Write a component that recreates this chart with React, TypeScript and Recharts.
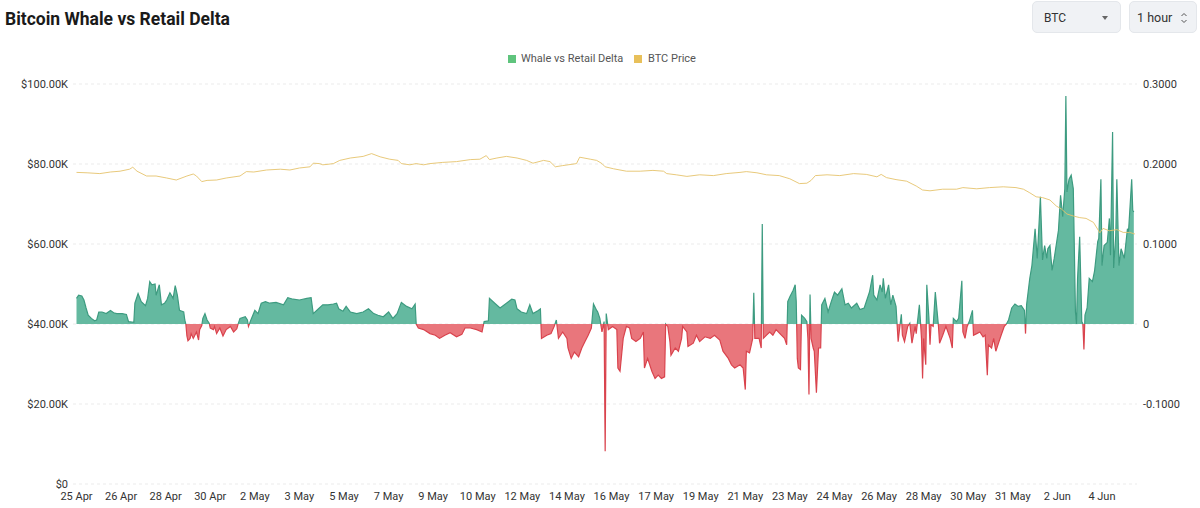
import React from 'react';
import { ComposedChart, Area, Line, XAxis, YAxis, CartesianGrid } from 'recharts';

// hours counted from 25 Apr 00:00 (UTC)
const START = Date.UTC(2025, 3, 25);
const MONTHS = ['Jan', 'Feb', 'Mar', 'Apr', 'May', 'Jun', 'Jul', 'Aug', 'Sep', 'Oct', 'Nov', 'Dec'];

const xTicks = [0, 42, 84, 126, 168, 210, 252, 294, 336, 378, 420, 462, 504, 546, 588, 630, 672, 714, 756, 798, 840, 882, 924, 966];
const priceTicks = [0, 20, 40, 60, 80, 100];
const deltaTicks = [-0.1, 0, 0.1, 0.2, 0.3];

// BTC price, in $K
const priceHours = [
  0, 10, 22, 32, 41, 50, 53, 57, 66, 75, 85, 94, 104, 110, 113, 118, 123, 132, 141, 154,
  160, 167, 179, 192, 201, 210, 220, 223, 229, 232, 236, 242, 248, 258, 270, 278, 286, 295, 303, 306,
  314, 320, 327, 333, 345, 358, 371, 380, 386, 389, 396, 405, 415, 424, 430, 440, 446, 451, 458, 471,
  474, 484, 490, 495, 498, 506, 518, 531, 543, 553, 556, 565, 575, 587, 600, 612, 625, 631, 641, 650,
  662, 672, 681, 688, 692, 696, 707, 719, 732, 744, 754, 758, 763, 772, 782, 791, 797, 804, 816, 829,
  835, 848, 860, 873, 885, 892, 898, 904, 910, 917, 923, 928, 933, 939, 945, 951, 958, 964, 967, 973,
  980, 986, 992, 997,
];
const priceValues = [
  77.9, 77.8, 77.6, 78.0, 78.2, 78.7, 79.2, 78.2, 77.0, 77.0, 76.5, 76.0, 77.0, 77.5, 77.0, 75.6, 75.9, 76.0, 76.5, 77.0,
  78.1, 78.0, 78.5, 78.7, 78.5, 79.0, 79.3, 80.2, 80.1, 79.8, 79.9, 80.1, 80.9, 81.5, 81.9, 82.6, 81.8, 81.2, 80.9, 80.1,
  79.8, 80.1, 79.8, 80.1, 80.4, 80.6, 81.1, 81.2, 82.1, 81.1, 81.5, 81.9, 81.5, 80.9, 80.2, 80.9, 80.6, 79.3, 79.6, 80.1,
  81.7, 81.2, 80.9, 80.1, 79.3, 78.8, 78.2, 78.2, 78.4, 78.2, 77.6, 77.3, 76.9, 77.3, 77.1, 77.6, 77.9, 78.1, 77.8, 77.3,
  77.1, 76.3, 75.1, 75.2, 75.9, 77.1, 77.3, 77.1, 77.6, 77.4, 76.8, 77.4, 76.6, 76.1, 75.7, 74.5, 73.5, 73.3, 73.7, 73.7,
  74.1, 73.8, 74.1, 74.3, 74.1, 73.7, 72.8, 71.8, 71.6, 71.0, 69.5, 68.7, 67.5, 67.0, 66.6, 66.4, 65.4, 62.8, 63.9, 63.3,
  63.6, 62.9, 62.9, 62.5,
];

// Whale vs Retail Delta
const deltaHours = [
  0, 2, 5, 7, 9, 11, 14, 17, 19, 21,
  24, 28, 32, 35, 38, 43, 47, 49, 54, 55,
  58, 61, 65, 67, 69, 71, 74, 75, 78, 80,
  83, 85, 88, 91, 93, 95, 97, 101, 102, 103,
  104, 105, 107, 108, 110, 113, 115, 116, 118, 119,
  121, 123, 125, 126, 129, 130, 132, 135, 138, 141,
  145, 148, 151, 152, 154, 159, 161, 162, 164, 168,
  171, 174, 178, 182, 188, 195, 199, 204, 210, 217,
  221, 223, 228, 232, 237, 242, 245, 247, 251, 254,
  258, 264, 270, 275, 280, 284, 289, 294, 298, 302,
  306, 311, 316, 319, 320, 322, 327, 333, 338, 342,
  347, 352, 358, 363, 366, 371, 377, 382, 384, 388,
  389, 394, 399, 405, 410, 413, 415, 419, 424, 427,
  430, 435, 437, 438, 443, 447, 450, 452, 454, 458,
  462, 463, 466, 469, 473, 476, 479, 482, 485, 487,
  490, 491, 493, 495, 497, 498, 499, 501, 505, 509,
  510, 512, 515, 518, 521, 523, 527, 531, 534, 535,
  538, 542, 545, 548, 551, 554, 555, 557, 559, 560,
  564, 567, 570, 571, 575, 576, 581, 584, 587, 592,
  597, 601, 606, 609, 614, 617, 620, 625, 628, 630,
  631, 634, 637, 638, 639, 643, 645, 646, 647, 650,
  653, 656, 659, 664, 667, 669, 670, 672, 675, 677,
  678, 679, 680, 682, 683, 686, 688, 689, 690, 691,
  692, 694, 695, 697, 699, 701, 702, 705, 708, 711,
  714, 717, 721, 724, 727, 730, 735, 738, 742, 747,
  750, 751, 754, 757, 759, 760, 762, 765, 767, 769,
  772, 773, 774, 775, 777, 778, 780, 783, 785, 787,
  790, 791, 794, 796, 797, 798, 800, 801, 803, 804,
  805, 807, 809, 812, 813, 816, 819, 823, 825, 826,
  829, 831, 834, 835, 837, 839, 841, 844, 845, 848,
  851, 854, 856, 858, 859, 862, 864, 866, 869, 871,
  874, 876, 878, 881, 884, 887, 890, 893, 894, 895,
  898, 900, 903, 905, 907, 908, 910, 912, 914, 915,
  917, 919, 921, 925, 927, 929, 931, 932, 933, 935,
  937, 939, 941, 942, 943, 945, 947, 948, 949, 950,
  952, 954, 957, 959, 962, 963, 965, 966, 968, 971,
  973, 974, 976, 977, 979, 980, 982, 984, 987, 990,
  991, 994, 995, 996,
];
const deltaValues = [
  0.032, 0.036, 0.035, 0.030, 0.020, 0.011, 0.007, 0.004, 0.005, 0.015,
  0.015, 0.013, 0.017, 0.014, 0.013, 0.013, 0.012, 0.003, 0.002, 0.026,
  0.038, 0.028, 0.023, 0.032, 0.053, 0.049, 0.050, 0.036, 0.049, 0.024,
  0.026, 0.030, 0.039, 0.032, 0.048, 0.036, 0.017, 0.015, 0.005, 0,
  -0.015, -0.021, -0.018, -0.012, -0.018, -0.010, -0.020, -0.007, -0.002, 0.007,
  0.013, 0.005, 0.001, -0.005, -0.007, -0.003, -0.012, -0.005, -0.015, -0.007,
  -0.003, -0.010, -0.006, -0.001, 0.007, 0.009, 0.005, -0.003, 0.004, 0.017,
  0.013, 0.026, 0.028, 0.026, 0.027, 0.024, 0.033, 0.031, 0.030, 0.032,
  0.033, 0.013, 0.019, 0.024, 0.024, 0.025, 0.026, 0.019, 0.016, 0.022,
  0.015, 0.013, 0.015, 0.019, 0.013, 0.011, 0.009, 0.015, 0.007, 0.013,
  0.027, 0.022, 0.019, 0.025, 0, -0.005, -0.007, -0.012, -0.014, -0.018,
  -0.014, -0.011, -0.016, -0.013, -0.005, -0.005, -0.007, -0.010, 0.003, 0.004,
  0.032, 0.026, 0.020, 0.026, 0.031, 0.030, 0.019, 0.015, 0.013, 0.024,
  0.013, 0.017, 0.019, -0.018, -0.014, -0.012, -0.003, 0.005, -0.018, -0.010,
  -0.018, -0.030, -0.043, -0.035, -0.041, -0.030, -0.022, -0.014, -0.005, 0.025,
  0.017, 0.015, 0.007, -0.010, 0.003, -0.159, 0.013, -0.007, -0.003, -0.007,
  -0.055, -0.059, -0.018, -0.003, -0.005, -0.018, -0.022, -0.018, -0.010, -0.055,
  -0.043, -0.059, -0.068, -0.064, -0.068, -0.066, 0, -0.003, -0.022, -0.039,
  -0.030, -0.034, -0.018, -0.003, -0.010, -0.028, -0.024, -0.014, -0.022, -0.016,
  -0.018, -0.014, -0.020, -0.034, -0.043, -0.051, -0.055, -0.051, -0.055, -0.082,
  -0.034, -0.036, -0.018, 0.039, -0.018, -0.018, -0.030, 0.125, -0.018, -0.014,
  -0.010, -0.014, -0.007, -0.014, -0.018, -0.026, 0.028, 0.034, 0.042, 0.049,
  0.028, -0.043, -0.055, -0.057, 0.011, 0.007, 0.003, -0.018, -0.088, 0.037,
  -0.018, -0.030, -0.034, -0.086, -0.030, -0.030, 0.024, 0.032, 0.015, 0.028,
  0.040, 0.036, 0.044, 0.024, 0.026, 0.020, 0.026, 0.018, 0.020, 0.040,
  0.061, 0.036, 0.030, 0.049, 0.040, 0.057, 0.032, 0.049, 0.024, 0.036,
  0.022, 0, -0.022, -0.010, 0.012, -0.014, -0.022, -0.003, 0.001, -0.024,
  -0.003, -0.012, 0.024, -0.018, -0.068, -0.018, -0.051, 0.049, 0.007, -0.026,
  -0.001, -0.003, 0.040, -0.003, -0.024, -0.014, -0.003, -0.018, -0.030, 0.007,
  0.003, 0.007, 0.054, -0.010, -0.018, -0.003, 0.003, 0.017, -0.014, -0.012,
  -0.010, -0.016, -0.014, -0.064, -0.026, -0.030, -0.018, -0.034, -0.022, -0.014,
  -0.003, 0, 0.005, 0.020, 0.025, 0.022, 0.023, 0.017, -0.012, 0.024,
  0.057, 0.073, 0.119, 0.082, 0.132, 0.159, 0.080, 0.098, 0.082, 0.094,
  0.098, 0.067, 0.082, 0.117, 0.161, 0.134, 0.169, 0.285, 0.165, 0.181,
  0.186, 0.169, 0.015, 0, 0.057, 0.109, 0.003, 0, -0.032, 0.011,
  0.020, 0.057, 0.053, 0.066, 0.103, 0.107, 0.181, 0.073, 0.098, 0.102,
  0.132, 0.086, 0.240, 0.070, 0.111, 0.181, 0.073, 0.094, 0.082, 0.119,
  0.115, 0.181, 0.142, 0.140,
];

type Row = { h: number; price?: number; delta?: number };

function buildRows(): Row[] {
  const byHour = new Map<number, Row>();
  priceHours.forEach((h, i) => {
    const row = byHour.get(h) ?? { h };
    row.price = priceValues[i];
    byHour.set(h, row);
  });
  deltaHours.forEach((h, i) => {
    const row = byHour.get(h) ?? { h };
    row.delta = deltaValues[i];
    byHour.set(h, row);
  });
  return Array.from(byHour.values()).sort((a, b) => a.h - b.h);
}

const rows = buildRows();

const formatDay = (h: number) => {
  const d = new Date(START + h * 3600 * 1000);
  return `${d.getUTCDate()} ${MONTHS[d.getUTCMonth()]}`;
};
const formatPrice = (v: number) => (v === 0 ? '$0' : `$${v.toFixed(2)}K`);
const formatDelta = (v: number) => (v === 0 ? '0' : v.toFixed(4));

const PLOT_TOP = 84;
const PLOT_BOTTOM = 484;
const tickStyle = { fontSize: 11, fill: '#333', fontFamily: 'Roboto' };

export default function App() {
  return (
    <div style={{ position: 'absolute', left: 0, top: 0, width: 1200, height: 508, background: '#fff', fontFamily: 'Roboto' }}>
      <div style={{ position: 'absolute', left: 5, top: 9, fontSize: 17.5, lineHeight: '20px', fontWeight: 700, color: '#1a1a1a', whiteSpace: 'nowrap' }}>
        Bitcoin Whale vs Retail Delta
      </div>

      <div style={{ position: 'absolute', left: 1032, top: 1, width: 89, height: 32, boxSizing: 'border-box', borderRadius: 5, background: '#f0f2f5', border: '1px solid #e4e7eb' }}>
        <span style={{ position: 'absolute', left: 11, top: 8, fontSize: 12, lineHeight: '16px', color: '#333' }}>BTC</span>
        <span style={{ position: 'absolute', left: 69, top: 14, width: 0, height: 0, borderLeft: '3.5px solid transparent', borderRight: '3.5px solid transparent', borderTop: '4px solid #666' }} />
      </div>
      <div style={{ position: 'absolute', left: 1129, top: 1, width: 68, height: 32, boxSizing: 'border-box', borderRadius: 5, background: '#f0f2f5', border: '1px solid #e4e7eb' }}>
        <span style={{ position: 'absolute', left: 7, top: 7.5, fontSize: 12.5, lineHeight: '16px', color: '#333' }}>1 hour</span>
        <svg style={{ position: 'absolute', left: 50, top: 9 }} width={8} height={14} viewBox="0 0 8 14">
          <path d="M1.5 5 L4 2.5 L6.5 5" fill="none" stroke="#555" strokeWidth={1} />
          <path d="M1.5 9 L4 11.5 L6.5 9" fill="none" stroke="#555" strokeWidth={1} />
        </svg>
      </div>

      <div style={{ position: 'absolute', left: 508, top: 52, display: 'flex', alignItems: 'center', fontSize: 11, lineHeight: '13px', color: '#555' }}>
        <span style={{ width: 8, height: 8, background: '#5fc47d', marginRight: 5 }} />
        <span>Whale vs Retail Delta</span>
      </div>
      <div style={{ position: 'absolute', left: 634, top: 52, display: 'flex', alignItems: 'center', fontSize: 11, lineHeight: '13px', color: '#555' }}>
        <span style={{ width: 8, height: 8, background: '#e8c05a', marginRight: 6 }} />
        <span>BTC Price</span>
      </div>

      <ComposedChart
        width={1200}
        height={508}
        data={rows}
        margin={{ top: PLOT_TOP, right: 0, bottom: 0, left: 0 }}
        style={{ position: 'absolute', left: 0, top: 0 }}
      >
        <defs>
          <linearGradient id="deltaFill" gradientUnits="userSpaceOnUse" x1="0" y1={PLOT_TOP} x2="0" y2={PLOT_BOTTOM}>
            <stop offset="0.6" stopColor="#64b9a0" />
            <stop offset="0.6" stopColor="#e9767c" />
          </linearGradient>
          <linearGradient id="deltaStroke" gradientUnits="userSpaceOnUse" x1="0" y1={PLOT_TOP} x2="0" y2={PLOT_BOTTOM}>
            <stop offset="0.6" stopColor="#3d9b80" />
            <stop offset="0.6" stopColor="#d9434d" />
          </linearGradient>
        </defs>
        <CartesianGrid yAxisId="price" vertical={false} strokeDasharray="3 3" stroke="#ebebeb" />
        <XAxis
          dataKey="h"
          type="number"
          domain={[-3.3, 999]}
          ticks={xTicks}
          interval={0}
          tickFormatter={formatDay}
          axisLine={false}
          tickLine={false}
          height={24}
          tick={tickStyle}
        />
        <YAxis
          yAxisId="price"
          domain={[0, 100]}
          ticks={priceTicks}
          tickFormatter={formatPrice}
          axisLine={false}
          tickLine={false}
          tickSize={3}
          tickMargin={2}
          width={73}
          tick={tickStyle}
        />
        <YAxis
          yAxisId="delta"
          orientation="right"
          domain={[-0.2, 0.3]}
          ticks={deltaTicks}
          tickFormatter={formatDelta}
          axisLine={false}
          tickLine={false}
          tickSize={4}
          tickMargin={2}
          width={63}
          tick={tickStyle}
        />
        <Area
          yAxisId="delta"
          dataKey="delta"
          name="Whale vs Retail Delta"
          type="linear"
          baseValue={0}
          stroke="url(#deltaStroke)"
          strokeWidth={1.2}
          fill="url(#deltaFill)"
          fillOpacity={1}
          connectNulls
          dot={false}
          activeDot={false}
          isAnimationActive={false}
        />
        <Line
          yAxisId="price"
          dataKey="price"
          name="BTC Price"
          type="linear"
          stroke="#e6c36d"
          strokeWidth={1}
          strokeOpacity={0.9}
          connectNulls
          dot={false}
          activeDot={false}
          isAnimationActive={false}
        />
      </ComposedChart>
    </div>
  );
}
